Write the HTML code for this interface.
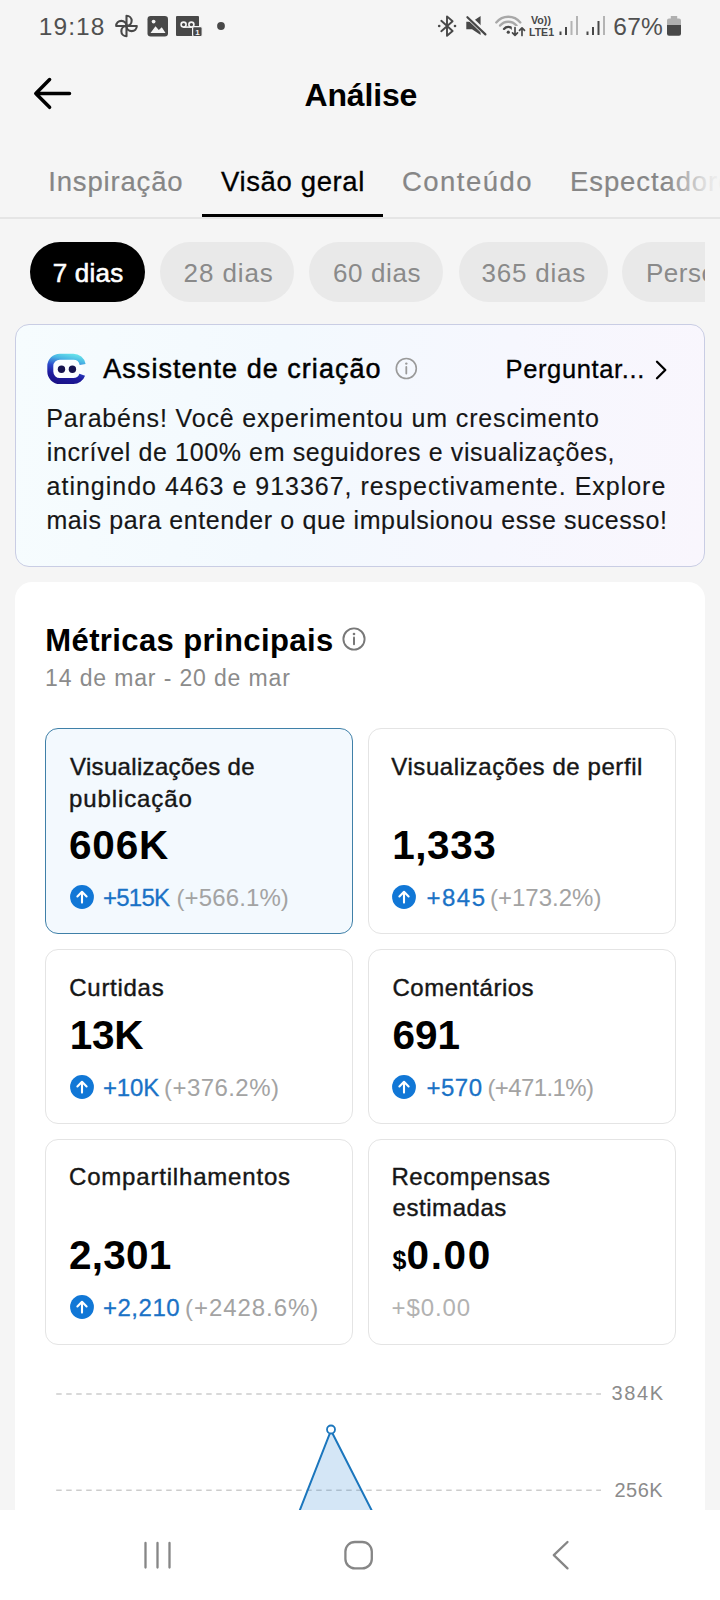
<!DOCTYPE html>
<html lang="pt-BR">
<head>
<meta charset="utf-8">
<title>Análise</title>
<style>
*{box-sizing:border-box;margin:0;padding:0}
html,body{width:720px;height:1600px;overflow:hidden;background:#f5f5f5}
body{position:relative;font-family:"Liberation Sans",sans-serif;color:#000}
.abs{position:absolute;white-space:nowrap}
.t{position:absolute;white-space:nowrap;line-height:1;height:1em}
/* status bar */
#time{left:40.5px;top:13px;font-size:24.5px;line-height:28px;color:#505050}
#batt{left:615px;top:13px;font-size:24.5px;line-height:28px;color:#505050}
/* header */
#title{left:304.5px;font-size:32px;font-weight:700}
.tab{font-size:27.5px;color:#868686;-webkit-text-stroke:0.2px #868686}
.tab.on{color:#000;-webkit-text-stroke:0.3px #000}
#tabline{left:0;top:217px;width:720px;height:2px;background:#e5e5e5}
#tabul{left:202px;top:214px;width:181px;height:3px;background:#000}
#tabfade{left:666px;top:150px;width:60px;height:60px;background:linear-gradient(90deg,rgba(245,245,245,0) 0%,rgba(245,245,245,.85) 70%,#f5f5f5 100%)}
#chips{left:0;top:242px;width:705px;height:60px;overflow:hidden}
.chip{position:absolute;top:0;height:60px;border-radius:30px;background:#e9e9e9}
.chip.on{background:#000}
.ct{font-size:26px;color:#8a8a8a}
.ct.on{color:#fff;-webkit-text-stroke:0.55px #fff}
/* assistant */
#asst{left:15px;top:324px;width:690px;height:243px;border-radius:14px;border:1.5px solid #c9cde4;background:linear-gradient(95deg,#f6fcfe 0%,#f3f9fe 38%,#f6f7fe 70%,#f9f6fd 100%)}
#at{left:103px;font-size:27px;-webkit-text-stroke:0.5px #000}
#ask{left:505px;font-size:25.5px;-webkit-text-stroke:0.3px #000}
.p{left:46px;font-size:25px;color:#161616;-webkit-text-stroke:0.15px #161616}
/* metrics */
#met{left:15px;top:582px;width:690px;height:1018px;border-radius:17px;background:#fff}
#mt{left:46px;font-size:31px;font-weight:700}
#md{left:46px;font-size:23px;color:#8b8b8b}
.mc{position:absolute;border:1.5px solid #e4e4e4;border-radius:13px;background:#fff}
.mc.sel{border-color:#3f80a8;background:#f3f9fe}
.l{font-size:24px;color:#161616;-webkit-text-stroke:0.4px #161616}
.v{font-size:40.5px;font-weight:700}
.d{font-size:24px;color:#1a72c6;-webkit-text-stroke:0.3px #1a72c6}
.g{font-size:24px;color:#a3a3a3}
/* nav */
#nav{left:0;top:1510px;width:720px;height:90px;background:#fff}
#time{letter-spacing:1.12px;margin-left:-1.81px}
#batt{letter-spacing:0.25px;margin-left:-1.70px}
#title{letter-spacing:-0.17px;margin-left:0.00px}
#tab1{letter-spacing:0.84px;margin-left:-1.81px}
#tab2{letter-spacing:0.63px;margin-left:0.50px}
#tab3{letter-spacing:1.46px;margin-left:-0.50px}
#c2{letter-spacing:0.92px;margin-left:-0.50px}
#c4{letter-spacing:0.79px;margin-left:-1.00px}
#at{letter-spacing:1.03px;margin-left:0.31px}
#ask{letter-spacing:0.64px;margin-left:0.50px}
#p1{letter-spacing:0.84px;margin-left:0.21px}
#p2{letter-spacing:0.62px;margin-left:0.80px}
#p3{letter-spacing:0.99px;margin-left:0.60px}
#p4{letter-spacing:0.61px;margin-left:0.41px}
#mt{letter-spacing:0.39px;margin-left:-0.71px}
#md{letter-spacing:0.86px;margin-left:-0.91px}
#l1a{letter-spacing:0.33px;margin-left:0.00px}
#l1b{letter-spacing:0.89px;margin-left:-1.00px}
#v1{letter-spacing:0.83px;margin-left:-1.00px}
#d1{letter-spacing:-0.75px;margin-left:-1.00px}
#g1{letter-spacing:0.12px;margin-left:-1.00px}
#l2{letter-spacing:0.58px;margin-left:-1.21px}
#v2{letter-spacing:0.55px;margin-left:-1.81px}
#d2{letter-spacing:1.50px;margin-left:0.00px}
#g2{letter-spacing:0.00px;margin-left:-1.00px}
#l3{letter-spacing:0.71px;margin-left:-0.70px}
#v3{letter-spacing:-0.25px;margin-left:-2.31px}
#d3{letter-spacing:-0.17px;margin-left:-1.00px}
#g3{letter-spacing:0.44px;margin-left:-1.00px}
#l4{letter-spacing:0.50px;margin-left:0.00px}
#v4{letter-spacing:0.00px;margin-left:-1.00px}
#d4{letter-spacing:0.50px;margin-left:0.00px}
#g4{letter-spacing:-0.62px;margin-left:-1.00px}
#l5{letter-spacing:0.81px;margin-left:-1.00px}
#v5{letter-spacing:0.25px;margin-left:-1.00px}
#d5{letter-spacing:0.50px;margin-left:-1.00px}
#g5{letter-spacing:0.94px;margin-left:-1.00px}
#l6a{letter-spacing:0.50px;margin-left:-1.00px}
#l6b{letter-spacing:0.56px;margin-left:0.00px}
#v6{letter-spacing:1.67px;margin-left:-1.00px}
#g6{letter-spacing:0.90px;margin-left:-1.00px}
#c1{letter-spacing:0.20px;margin-left:-0.55px}
#tab4{letter-spacing:0.9px}
#c3{letter-spacing:0.6px}
#c5{letter-spacing:0.5px}

</style>
</head>
<body>
<!-- status -->
<div class="abs" id="time">19:18</div>
<div class="abs" id="batt">67%</div>
<svg class="abs" style="left:0;top:0" width="720" height="52" viewBox="0 0 720 52">
  <g fill="none" stroke="#484848" stroke-width="2.1" stroke-linejoin="round">
    <path d="M126.5 26 V15.7 A5.15 5.15 0 0 1 126.5 26 Z"/>
    <path d="M126.5 26 H136.8 A5.15 5.15 0 0 1 126.5 26 Z"/>
    <path d="M126.5 26 V36.3 A5.15 5.15 0 0 1 126.5 26 Z"/>
    <path d="M126.5 26 H116.2 A5.15 5.15 0 0 1 126.5 26 Z"/>
  </g>
  <rect x="147.5" y="16" width="20.5" height="20.5" rx="3.2" fill="#484848"/>
  <path d="M150.5 33 L155.5 26.2 L158.8 30 L161.8 27.2 L165.5 33 Z" fill="#f5f5f5"/>
  <circle cx="153.6" cy="21.6" r="1.9" fill="#f5f5f5"/>
  <rect x="176" y="16" width="23" height="20" rx="1" fill="#484848"/>
  <g fill="none" stroke="#f5f5f5" stroke-width="1.6">
    <circle cx="183.6" cy="24.6" r="2.5"/><circle cx="191.4" cy="24.6" r="2.5"/>
    <path d="M183.6 27.1 H191.4"/>
  </g>
  <rect x="192.6" y="26.6" width="9.6" height="10" rx="1.5" fill="#484848" stroke="#f5f5f5" stroke-width="1.2"/>
  <text x="197.4" y="34.8" font-size="8" font-weight="700" fill="#f5f5f5" text-anchor="middle" font-family="Liberation Sans, sans-serif">1</text>
  <circle cx="221" cy="26" r="3.9" fill="#484848"/>

  <!-- bluetooth -->
  <path d="M441.3 20.8 L452.6 31 L447 35.8 V16.4 L452.6 21.2 L441.3 31.2" fill="none" stroke="#484848" stroke-width="1.9" stroke-linejoin="round" stroke-linecap="round"/>
  <circle cx="439.2" cy="26" r="1.3" fill="#484848"/><circle cx="455" cy="26" r="1.3" fill="#484848"/>
  <!-- mute -->
  <path d="M466.3 21.8 H472 L480.6 16 V35 L472 29.2 H466.3 Z" fill="#484848"/>
  <path d="M466.2 14.8 L487 34.8" stroke="#f5f5f5" stroke-width="5.2"/>
  <path d="M467.4 17.2 L485.4 34.4" stroke="#484848" stroke-width="2.2" stroke-linecap="round"/>
  <!-- wifi -->
  <g fill="none" stroke-linecap="round">
    <path d="M496.3 22.4 A15.7 15.7 0 0 1 520.3 22.4" stroke="#a8a8a8" stroke-width="2.4"/>
    <path d="M500.1 25.6 A10.7 10.7 0 0 1 516.5 25.6" stroke="#a8a8a8" stroke-width="2.4"/>
    <path d="M504 28.9 A5.6 5.6 0 0 1 512.6 28.9" stroke="#484848" stroke-width="2.3"/>
  </g>
  <circle cx="508.3" cy="32.2" r="1.6" fill="#484848"/>
  <rect x="511.8" y="26" width="14" height="11" fill="#f5f5f5"/>
  <path d="M515 27.6 V35 M512.5 32.8 L515 35.3 L517.5 32.8 M522 35.4 V28 M519.5 30.3 L522 27.8 L524.5 30.3" fill="none" stroke="#484848" stroke-width="1.7" stroke-linecap="round" stroke-linejoin="round"/>
  <!-- volte -->
  <text x="531" y="23.6" font-size="10.5" font-weight="700" fill="#484848" textLength="20" lengthAdjust="spacingAndGlyphs" font-family="Liberation Sans, sans-serif">Vo))</text>
  <text x="529" y="35.6" font-size="11.5" font-weight="700" fill="#484848" textLength="25" lengthAdjust="spacingAndGlyphs" font-family="Liberation Sans, sans-serif">LTE1</text>
  <!-- signal 1 -->
  <g stroke-width="2" stroke-linecap="butt">
    <path d="M560.5 35 V31.5 M566 35 V27" stroke="#484848"/>
    <path d="M571.5 35 V21 M577 35 V16" stroke="#b4b4b4"/>
    <path d="M587.5 35 V31.5 M593 35 V27 M598.5 35 V21" stroke="#484848"/>
    <path d="M604 35 V16" stroke="#b4b4b4"/>
  </g>
  <!-- battery -->
  <path d="M670.8 16 H677.2 V18.5 H679 A2 2 0 0 1 681 20.5 V25 H667 V20.5 A2 2 0 0 1 669 18.5 H670.8 Z" fill="#b0b0b0"/>
  <path d="M667 25 H681 V33.8 A2 2 0 0 1 679 35.8 H669 A2 2 0 0 1 667 33.8 Z" fill="#484848"/>
</svg>
<!-- header -->
<svg class="abs" style="left:30px;top:73px" width="48" height="40" viewBox="0 0 48 40"><path d="M19.6 6.5 L5.8 20.4 L19.6 34.3 M6 20.4 H39.5" fill="none" stroke="#000" stroke-width="3.5" stroke-linecap="round" stroke-linejoin="round"/></svg>
<div id="title" class="t " style="left:304.5px;top:78.91px;">Análise</div>
<div id="tab1" class="t tab" style="left:50px;top:167.72px;">Inspiração</div>
<div id="tab2" class="t tab on" style="left:220.5px;top:167.72px;">Visão geral</div>
<div id="tab3" class="t tab" style="left:402.5px;top:167.72px;">Conteúdo</div>
<div id="tab4" class="t tab" style="left:570px;top:167.72px;">Espectadores</div>
<div class="abs" id="tabfade"></div>
<div class="abs" id="tabline"></div>
<div class="abs" id="tabul"></div>
<div class="abs" id="chips">
<div class="chip on" style="left:30px;width:115px"></div>
<div class="chip" style="left:160px;width:134px"></div>
<div class="chip" style="left:309px;width:134px"></div>
<div class="chip" style="left:459px;width:149px"></div>
<div class="chip" style="left:622px;width:200px"></div>
<div id="c1" class="t ct on" style="left:53.3px;top:17.99px;">7 dias</div>
<div id="c2" class="t ct" style="left:184px;top:17.99px;">28 dias</div>
<div id="c3" class="t ct" style="left:333px;top:17.99px;">60 dias</div>
<div id="c4" class="t ct" style="left:482.5px;top:17.99px;">365 dias</div>
<div id="c5" class="t ct" style="left:646px;top:17.99px;">Personalizado</div>
</div>
<!-- assistant -->
<div class="abs" id="asst"></div>
<svg class="abs" style="left:40px;top:346.6px" width="54" height="44" viewBox="40 346 54 44">
  <defs><linearGradient id="bot" gradientUnits="userSpaceOnUse" x1="71" y1="352" x2="64" y2="384"><stop offset="0" stop-color="#6ae6ea"/><stop offset="0.22" stop-color="#48b4e4"/><stop offset="0.48" stop-color="#2c48ca"/><stop offset="0.72" stop-color="#1e1b9e"/><stop offset="1" stop-color="#1a1286"/></linearGradient></defs>
  <path d="M82.65 363.5 A9.5 9.5 0 0 0 73.3 355.7 H59.8 A9.5 9.5 0 0 0 50.3 365.2 V370.6 A9.5 9.5 0 0 0 59.8 380.1 H73.3 A9.5 9.5 0 0 0 82.24 373.8 Z" fill="#fbfdff" stroke="none"/>
  <path d="M82.65 363.5 A9.5 9.5 0 0 0 73.3 355.7 H59.8 A9.5 9.5 0 0 0 50.3 365.2 V370.6 A9.5 9.5 0 0 0 59.8 380.1 H73.3 A9.5 9.5 0 0 0 82.24 373.8" fill="none" stroke="url(#bot)" stroke-width="6" stroke-linecap="butt"/>
  <circle cx="61.5" cy="368.2" r="3.7" fill="#16124f"/><circle cx="72.4" cy="368.2" r="3.7" fill="#16124f"/>
</svg>
<div id="at" class="t " style="left:103px;top:356.34px;">Assistente de criação</div>
<svg class="abs" style="left:394px;top:356px" width="25" height="25" viewBox="0 0 25 25"><circle cx="12.3" cy="12.5" r="10" fill="none" stroke="#9a9a9a" stroke-width="1.6"/><path d="M12.3 11 V17.6" stroke="#9a9a9a" stroke-width="1.8" stroke-linecap="round"/><circle cx="12.3" cy="7.6" r="1.2" fill="#9a9a9a"/></svg>
<div id="ask" class="t " style="left:505px;top:356.91px;">Perguntar...</div>
<svg class="abs" style="left:650px;top:356px" width="22" height="28" viewBox="0 0 22 28"><path d="M7 5.8 L15.3 14 L7 22.2" fill="none" stroke="#000" stroke-width="2.3" stroke-linecap="round" stroke-linejoin="round"/></svg>
<div id="p1" class="t p" style="left:46px;top:406.34px;">Parabéns! Você experimentou um crescimento</div>
<div id="p2" class="t p" style="left:46px;top:440.34px;">incrível de 100% em seguidores e visualizações,</div>
<div id="p3" class="t p" style="left:46px;top:474.34px;">atingindo 4463 e 913367, respectivamente. Explore</div>
<div id="p4" class="t p" style="left:46px;top:508.34px;">mais para entender o que impulsionou esse sucesso!</div>
<!-- metrics -->
<div class="abs" id="met"></div>
<div id="mt" class="t " style="left:46px;top:625.46px;">Métricas principais</div>
<svg class="abs" style="left:340.6px;top:626.3px" width="26" height="26" viewBox="0 0 26 26"><circle cx="13" cy="13" r="10.6" fill="none" stroke="#787878" stroke-width="1.9"/><path d="M13 11.6 V18.2" stroke="#787878" stroke-width="2" stroke-linecap="round"/><circle cx="13" cy="8" r="1.3" fill="#787878"/></svg>
<div id="md" class="t " style="left:46px;top:667.03px;">14 de mar - 20 de mar</div>
<div class="mc sel" style="left:44.5px;top:728px;width:308.5px;height:206px"></div>
<div class="mc" style="left:368px;top:728px;width:307.5px;height:206px"></div>
<div class="mc" style="left:44.5px;top:948.5px;width:308.5px;height:175.5px"></div>
<div class="mc" style="left:368px;top:948.5px;width:307.5px;height:175.5px"></div>
<div class="mc" style="left:44.5px;top:1138.5px;width:308.5px;height:206px"></div>
<div class="mc" style="left:368px;top:1138.5px;width:307.5px;height:206px"></div>
<div id="l1a" class="t l" style="left:70px;top:755.08px;">Visualizações de</div>
<div id="l1b" class="t l" style="left:70px;top:786.68px;">publicação</div>
<div id="v1" class="t v" style="left:70px;top:824.72px;">606K</div>
<svg class="abs" style="left:70.1px;top:885px" width="24" height="24" viewBox="0 0 24 24"><circle cx="12" cy="12" r="11.9" fill="#1177d6"/><path d="M12 17.6 V7 M7.4 11.4 L12 6.8 L16.6 11.4" fill="none" stroke="#fff" stroke-width="2.1" stroke-linecap="round" stroke-linejoin="round"/></svg>
<div id="d1" class="t d" style="left:104px;top:885.68px;">+515K</div>
<div id="g1" class="t g" style="left:177.5px;top:885.68px;">(+566.1%)</div>
<div id="l2" class="t l" style="left:392.5px;top:755.08px;">Visualizações de perfil</div>
<div id="v2" class="t v" style="left:394px;top:824.72px;">1,333</div>
<svg class="abs" style="left:391.9px;top:885px" width="24" height="24" viewBox="0 0 24 24"><circle cx="12" cy="12" r="11.9" fill="#1177d6"/><path d="M12 17.6 V7 M7.4 11.4 L12 6.8 L16.6 11.4" fill="none" stroke="#fff" stroke-width="2.1" stroke-linecap="round" stroke-linejoin="round"/></svg>
<div id="d2" class="t d" style="left:426.5px;top:885.68px;">+845</div>
<div id="g2" class="t g" style="left:491px;top:885.68px;">(+173.2%)</div>
<div id="l3" class="t l" style="left:70px;top:975.68px;">Curtidas</div>
<div id="v3" class="t v" style="left:72px;top:1014.72px;">13K</div>
<svg class="abs" style="left:70.1px;top:1075.3px" width="24" height="24" viewBox="0 0 24 24"><circle cx="12" cy="12" r="11.9" fill="#1177d6"/><path d="M12 17.6 V7 M7.4 11.4 L12 6.8 L16.6 11.4" fill="none" stroke="#fff" stroke-width="2.1" stroke-linecap="round" stroke-linejoin="round"/></svg>
<div id="d3" class="t d" style="left:104px;top:1075.68px;">+10K</div>
<div id="g3" class="t g" style="left:165px;top:1075.68px;">(+376.2%)</div>
<div id="l4" class="t l" style="left:392.5px;top:975.68px;">Comentários</div>
<div id="v4" class="t v" style="left:393.5px;top:1014.72px;">691</div>
<svg class="abs" style="left:391.9px;top:1075.3px" width="24" height="24" viewBox="0 0 24 24"><circle cx="12" cy="12" r="11.9" fill="#1177d6"/><path d="M12 17.6 V7 M7.4 11.4 L12 6.8 L16.6 11.4" fill="none" stroke="#fff" stroke-width="2.1" stroke-linecap="round" stroke-linejoin="round"/></svg>
<div id="d4" class="t d" style="left:426.5px;top:1075.68px;">+570</div>
<div id="g4" class="t g" style="left:488.5px;top:1075.68px;">(+471.1%)</div>
<div id="l5" class="t l" style="left:70px;top:1164.68px;">Compartilhamentos</div>
<div id="v5" class="t v" style="left:70px;top:1234.72px;">2,301</div>
<svg class="abs" style="left:70.1px;top:1294.9px" width="24" height="24" viewBox="0 0 24 24"><circle cx="12" cy="12" r="11.9" fill="#1177d6"/><path d="M12 17.6 V7 M7.4 11.4 L12 6.8 L16.6 11.4" fill="none" stroke="#fff" stroke-width="2.1" stroke-linecap="round" stroke-linejoin="round"/></svg>
<div id="d5" class="t d" style="left:104px;top:1295.68px;">+2,210</div>
<div id="g5" class="t g" style="left:186px;top:1295.68px;">(+2428.6%)</div>
<div id="l6a" class="t l" style="left:392.5px;top:1164.68px;">Recompensas</div>
<div id="l6b" class="t l" style="left:392.5px;top:1196.18px;">estimadas</div>
<div id="v6s" class="t v" style="left:392.5px;top:1247.84px;font-size:25px">$</div>
<div id="v6" class="t v" style="left:407.5px;top:1234.72px;">0.00</div>
<div id="g6" class="t g" style="left:392.5px;top:1295.68px;color:#b2b2b2">+$0.00</div>
<!-- chart -->
<svg class="abs" style="left:0;top:1360px" width="720" height="150" viewBox="0 1360 720 150">
  <line x1="56.2" y1="1394" x2="601" y2="1394" stroke="#cdcdcd" stroke-width="1.6" stroke-dasharray="5.5 4.5"/>
  <line x1="56.2" y1="1490.3" x2="601" y2="1490.3" stroke="#cdcdcd" stroke-width="1.6" stroke-dasharray="5.5 4.5"/>
  <path d="M299.5 1511 L331 1430.5 L372 1511 Z" fill="rgba(40,130,210,0.2)" stroke="#1b76bd" stroke-width="2"/>
  <circle cx="331" cy="1429.5" r="4" fill="#fff" stroke="#1b76bd" stroke-width="1.8"/>
  <text id="y1" x="611.5" y="1400" font-size="20" fill="#8b8b8b" textLength="51.5" lengthAdjust="spacing" font-family="Liberation Sans, sans-serif">384K</text>
  <text id="y2" x="614.5" y="1496.5" font-size="20" fill="#8b8b8b" textLength="48.2" lengthAdjust="spacing" font-family="Liberation Sans, sans-serif">256K</text>
</svg>
<!-- nav -->
<div class="abs" id="nav"></div>
<svg class="abs" style="left:0;top:1510px" width="720" height="90" viewBox="0 0 720 90">
  <g fill="none" stroke="#868686" stroke-width="2.3" stroke-linecap="round" stroke-linejoin="round">
    <path d="M145.5 33 V57.5 M157.5 33 V57.5 M169.5 33 V57.5"/>
    <rect x="345.4" y="32" width="26.4" height="26.4" rx="9.5"/>
    <path d="M567.5 32 L553.8 45.2 L567.5 58.4"/>
  </g>
</svg>
</body>
</html>
